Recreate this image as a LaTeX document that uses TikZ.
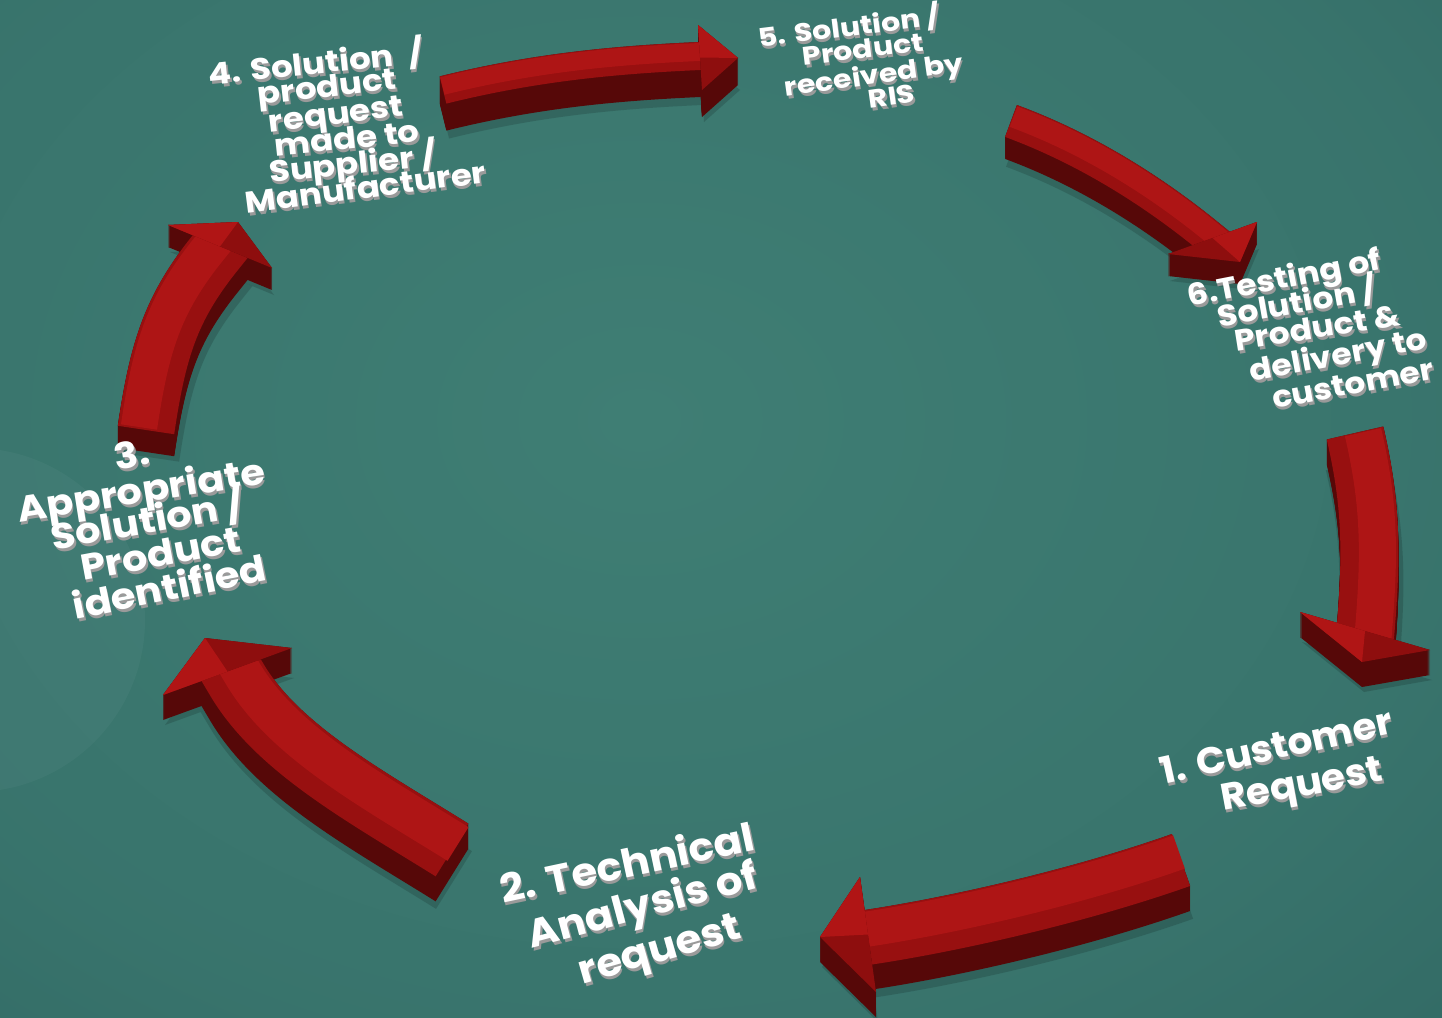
\documentclass[tikz,border=0pt]{standalone}
\usepackage{fontspec}
\setmainfont{Poppins}
\usetikzlibrary{calc}
\definecolor{bgin}{HTML}{3F7E74}
\definecolor{bgout}{HTML}{1E4B4D}
\definecolor{topdk}{HTML}{981010}
\definecolor{toplt}{HTML}{AE1515}
\definecolor{sidec}{HTML}{560808}
\definecolor{headlt}{HTML}{B01515}
\definecolor{headdk}{HTML}{8E0E0E}
\definecolor{tshadow}{HTML}{9A9A9A}
\pgfdeclareradialshading{bgshade}{\pgfpoint{0bp}{0bp}}{color(0bp)=(bgin); color(18bp)=(bgin!80!bgout); color(50bp)=(bgout)}
\tikzset{
  lbl/.style={text=white, inner sep=0pt, anchor=base},
  lblsh/.style={text=tshadow, inner sep=0pt, anchor=base}
}
% clip to the tail side of the head base: #1 wing1, #2 wing2, #3 tail
\newcommand{\baseclip}[3]{\clip ($(#1)!-1!(#2)$) -- ($(#2)!-1!(#1)$) -- ($($(#1)!0.5!(#2)$)!3!(#3)$) -- cycle;}
% #1 tail, #2 c1, #3 c2, #4 end, #5 width, #6 wing1, #7 tip, #8 wing2, #9 depth
\newcommand{\redarrow}[9]{%
  \begin{scope}[shift={(2,#9+5)}]
    \begin{scope}
      \baseclip{#6}{#8}{#1}
      \draw[black, opacity=0.15, line width=#5+6] (#1) .. controls (#2) and (#3) .. (#4) -- ($(#4)!-40pt!(#3)$);
    \end{scope}
    \fill[black, opacity=0.15] (#6) -- (#7) -- (#8) -- cycle;
  \end{scope}
  \foreach \k in {0,1,...,#9}{%
    \begin{scope}[shift={(0,\k)}]
      \begin{scope}
        \baseclip{#6}{#8}{#1}
        \draw[sidec, line width=#5] (#1) .. controls (#2) and (#3) .. (#4) -- ($(#4)!-40pt!(#3)$);
      \end{scope}
      \fill[sidec] (#6) -- (#7) -- (#8) -- cycle;
    \end{scope}
  }%
  \begin{scope}
    \baseclip{#6}{#8}{#1}
    \draw[topdk, line width=#5] (#1) .. controls (#2) and (#3) .. (#4) -- ($(#4)!-40pt!(#3)$);
    \begin{scope}[shift={(\hx,\hy)}]
      \draw[toplt, line width=0.64*#5] (#1) .. controls (#2) and (#3) .. (#4) -- ($(#4)!-40pt!(#3)$);
    \end{scope}
  \end{scope}
  \fill[headdk] (#6) -- (#7) -- (#8) -- cycle;
  \fill[headlt] (#6) -- (#7) -- ($(#6)!0.5!(#8)$) -- cycle;
}
% #1 name, #2 x, #3 y, #4 rotation, #5 size, #6 text, #7 extra options
\newcommand{\tline}[7]{%
  \node[lblsh, rotate=#4, #7, font=\fontsize{#5}{#5}\selectfont\bfseries] at (#2+1.5,#3+3) {#6};
  \node[lbl, rotate=#4, #7, font=\fontsize{#5}{#5}\selectfont\bfseries] (#1) at (#2,#3) {#6};
}
\begin{document}
\begin{tikzpicture}[x=1pt,y=-1pt]
\useasboundingbox (0,0) rectangle (1442,1017);
\begin{scope}
  \clip (0,0) rectangle (1442,1017);
  \fill[shading=bgshade] (640,420) ellipse [x radius=1150, y radius=880];
  \fill[white, opacity=0.035] (-27,620) circle (172);
\end{scope}

% arrow 1 (bottom, pointing left)
\def\hx{-2}\def\hy{-8}
\redarrow{1181,860}{1085,894}{962,923}{870,937}{55}{860,877}{820,937}{876,992}{25}
% arrow 2 (lower left)
\def\hx{6}\def\hy{-6}
\redarrow{452,850}{367,797}{278,749}{237,680}{62}{163,695}{205,638}{292,648}{25}
% arrow 3 (left)
\def\hx{-7}\def\hy{-3}
\redarrow{146,430}{158,349}{171,308}{215,253}{57}{168,225}{238,222}{272,268}{22}
% arrow 4 (top)
\def\hx{-0.6}\def\hy{-4}
\redarrow{443,90}{532,68}{610,60}{700,56}{28}{698,25}{738,58}{702,90}{27}
% arrow 5 (top right)
\def\hx{2.5}\def\hy{-4.3}
\redarrow{1011,121}{1087,149}{1154,192}{1208,236}{34}{1257,222}{1240,262}{1168,254}{22}
% arrow 6 (right)
\def\hx{8}\def\hy{-0.8}
\redarrow{1355,433}{1371,502}{1372,550}{1366,625}{58}{1300,612}{1362,662}{1430,650}{25}

% labels
\tline{l1a}{1279}{759}{12.5}{39}{1. Customer}{yscale=0.95}
\tline{l1b}{1304}{796}{10.5}{39}{Request}{yscale=0.95}

\tline{l2a}{630}{877}{12}{42}{2. Technical}{yscale=0.93}
\tline{l2b}{646}{918}{15}{42}{Analysis of}{yscale=0.93}
\tline{l2c}{663}{961}{16}{42}{request}{yscale=0.93}

\tline{l3a}{134}{467}{10}{40}{3.}{yscale=0.9}
\tline{l3b}{143}{503}{9}{40}{Appropriate}{yscale=0.9}
\tline{l3c}{150}{533}{10}{40}{Solution /}{yscale=0.9}
\tline{l3d}{163}{566}{10.5}{40}{Product}{yscale=0.9}
\tline{l3e}{172}{600}{11.5}{40}{identified}{yscale=0.9}

\tline{l4a}{317}{74}{6}{34}{4. Solution~~/}{yscale=0.88}
\tline{l4b}{328}{97}{6.5}{34}{product}{yscale=0.88}
\tline{l4c}{337}{124}{7}{34}{request}{yscale=0.88}
\tline{l4d}{348}{149}{6}{34}{made to}{yscale=0.88}
\tline{l4e}{354}{174}{6}{34}{Supplier /}{yscale=0.88}
\tline{l4f}{367}{198}{7.3}{34}{Manufacturer}{yscale=0.88}

\tline{l5a}{850}{36}{7}{30}{5. Solution /}{yscale=0.85}
\tline{l5b}{864}{58}{7}{30}{Product}{yscale=0.85}
\tline{l5c}{875}{84}{8}{30}{received by}{yscale=0.85}
\tline{l5d}{893}{105}{8}{30}{RIS}{yscale=0.85}

\tline{l6a}{1286}{288}{11}{33}{6.Testing of}{yscale=0.9}
\tline{l6b}{1299}{313}{10}{33}{Solution /}{yscale=0.9}
\tline{l6c}{1319}{338}{9}{33}{Product \&}{yscale=0.9}
\tline{l6d}{1340}{365}{10.5}{33}{delivery to}{yscale=0.9}
\tline{l6e}{1355}{394}{10.5}{33}{customer}{yscale=0.9}
\end{tikzpicture}
\end{document}
